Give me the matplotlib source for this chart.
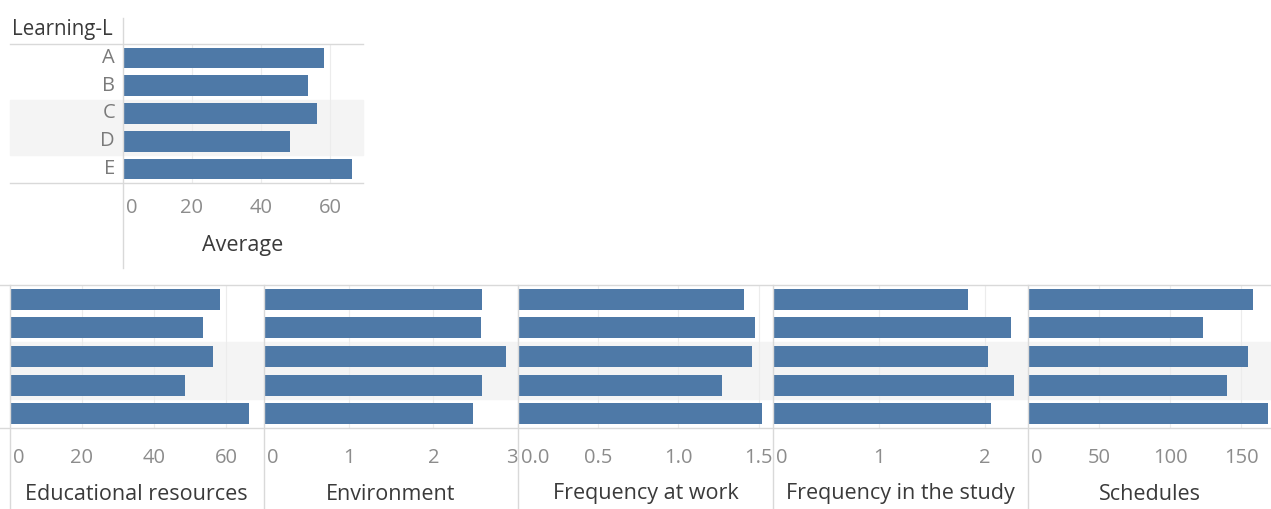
import matplotlib.pyplot as plt
from matplotlib.lines import Line2D
from matplotlib.transforms import blended_transform_factory, offset_copy

plt.rcParams['font.family'] = ['Open Sans', 'DejaVu Sans']

# data
categories = ['A', 'B', 'C', 'D', 'E']
average = [58.4, 53.6, 56.4, 48.5, 66.4]
educational = [58.4, 53.6, 56.4, 48.5, 66.4]
environment = [2.58, 2.56, 2.86, 2.58, 2.47]
freq_work = [1.41, 1.48, 1.46, 1.27, 1.52]
freq_study = [1.84, 2.25, 2.03, 2.28, 2.06]
schedules = [158, 123, 155, 140, 169]

W, H = 1271, 509
BAR = '#4e79a7'
BAND = '#f4f4f4'
LINE = '#d9d9d9'
TICK = '#8c8c8c'
TITLE = '#3a3a3a'
FS_TICK = 14.5
FS_TITLE = 15.5

fig = plt.figure(figsize=(W / 100, H / 100), dpi=100)


def box(x0, y0, x1, y1):
    ax = fig.add_axes([x0 / W, 1 - y1 / H, (x1 - x0) / W, (y1 - y0) / H])
    ax.set_axis_off()
    return ax


def hline(x0, x1, y):
    fig.add_artist(Line2D([x0 / W, x1 / W], [1 - y / H, 1 - y / H], color=LINE, lw=1))


def vline(x, y0, y1):
    fig.add_artist(Line2D([x / W, x / W], [1 - y0 / H, 1 - y1 / H], color=LINE, lw=1))


def bar_panel(ax, values, xmax, ticks, labels, title, tick_y, title_y, band_left=0, last_right=False):
    ax.axhspan(1.5, 3.5, xmin=band_left, xmax=1, color=BAND, zorder=0, clip_on=False)
    for t in ticks[1:]:
        ax.axvline(t, color='#ececec', lw=0.8, zorder=0.5)
    ax.barh(range(len(values)), values, height=0.74, color=BAR, zorder=2)
    ax.set_xlim(0, xmax)
    ax.set_ylim(len(values) - 0.5, -0.5)
    tr = blended_transform_factory(ax.transData, fig.transFigure)
    for i, (t, lab) in enumerate(zip(ticks, labels)):
        ha = 'center'
        trans = tr
        if i == 0:
            ha = 'left'
            trans = offset_copy(tr, fig=fig, x=3, y=0, units='dots')
        elif last_right and i == len(ticks) - 1:
            ha = 'right'
        ax.text(t, 1 - tick_y / H, lab, transform=trans, ha=ha, va='center',
                color=TICK, fontsize=FS_TICK)
    ax.text(0.5, 1 - title_y / H, title, transform=blended_transform_factory(ax.transAxes, fig.transFigure),
            ha='center', va='center', color=TITLE, fontsize=FS_TITLE)


# top chart
top = box(123, 44, 363, 183)
bar_panel(top, average, 69.6, [0, 20, 40, 60], ['0', '20', '40', '60'], 'Average',
          208, 246, band_left=-113 / 240)
ytr = blended_transform_factory(fig.transFigure, top.transData)
for i, c in enumerate(categories):
    top.text(115 / W, i, c, transform=ytr, ha='right', va='center', color='#7a7a7a', fontsize=FS_TICK)
fig.text(12 / W, 1 - 30 / H, 'Learning-L', ha='left', va='center', color=TITLE, fontsize=14.8)
hline(10, 363, 44)
hline(10, 363, 183)
vline(123, 18, 268)

# bottom row
panels = [
    ('Educational resources', educational, 10, 263, 70.3, [0, 20, 40, 60], ['0', '20', '40', '60'], False),
    ('Environment', environment, 264, 518, 3.0, [0, 1, 2, 3], ['0', '1', '2', '3'], True),
    ('Frequency at work', freq_work, 518, 773, 1.59, [0, 0.5, 1.0, 1.5], ['0.0', '0.5', '1.0', '1.5'], False),
    ('Frequency in the study', freq_study, 773, 1028, 2.41, [0, 1, 2], ['0', '1', '2'], False),
    ('Schedules', schedules, 1028, 1271, 171, [0, 50, 100, 150], ['0', '50', '100', '150'], False),
]
for title, vals, x0, x1, xmax, ticks, labels, last_right in panels:
    ax = box(x0, 285, x1, 428)
    bar_panel(ax, vals, xmax, ticks, labels, title, 458, 494, last_right=last_right)
    vline(x0, 285, 509)

hline(0, 1271, 285)
hline(0, 1271, 428)

fig.savefig('out.png', dpi=100)
